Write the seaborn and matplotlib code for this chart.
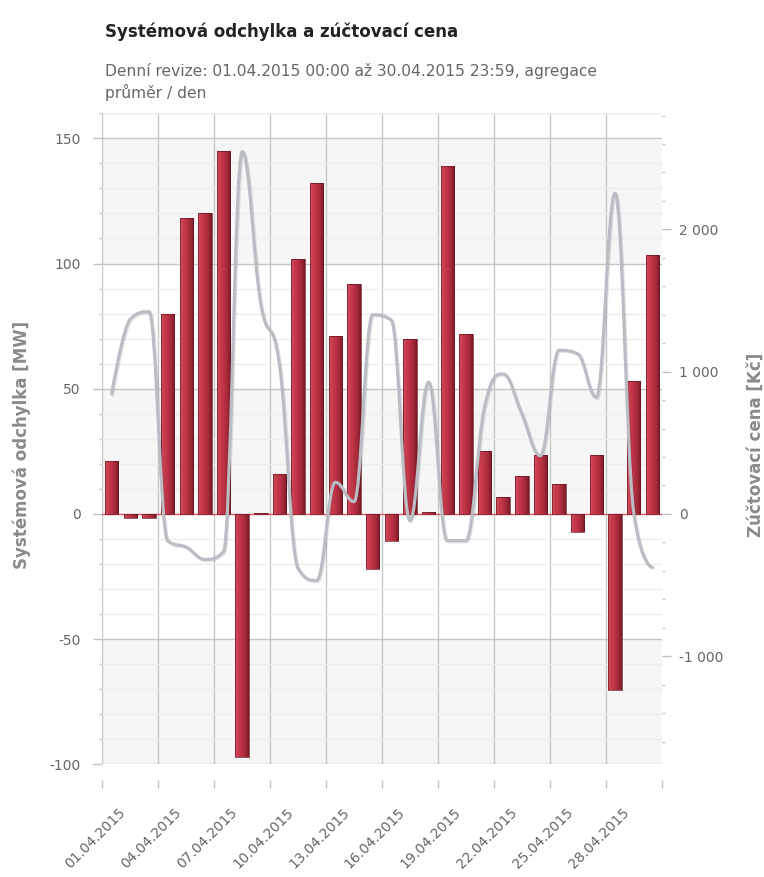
import numpy as np
import pandas as pd
import matplotlib
matplotlib.use("Agg")
import matplotlib.pyplot as plt
import seaborn as sns
from matplotlib.path import Path
from matplotlib.patches import PathPatch, Rectangle
from matplotlib.colors import LinearSegmentedColormap
from matplotlib.ticker import MultipleLocator, FixedLocator, FuncFormatter
import matplotlib.patheffects as pe
import matplotlib.transforms as mtrans

# --- data -------------------------------------------------------------
den = list(range(1, 31))
odchylka_mw = [21, -1.5, -1.5, 80, 118, 120, 145, -97, 0.3, 16,
               102, 132, 71, 92, -22, -10.7, 70, 0.9, 139, 72,
               25, 6.9, 15, 23.6, 12, -7.3, 23.6, -70.5, 53, 103.5]
cena_kc = [843, 1369, 1421, -188, -234, -320, -265, 2546, 1475, 1050,
           -384, -468, 222, 86, 1400, 1362, -47, 925, -188, -188,
           750, 983, 704, 409, 1150, 1125, 819, 2254, 15, -375]
datum_popisky = ["01.04.2015", "04.04.2015", "07.04.2015", "10.04.2015",
                 "13.04.2015", "16.04.2015", "19.04.2015", "22.04.2015",
                 "25.04.2015", "28.04.2015"]
datum_pozice = [0, 3, 6, 9, 12, 15, 18, 21, 24, 27]

nadpis = "Systémová odchylka a zúčtovací cena"
podnadpis = "Denní revize: 01.04.2015 00:00 až 30.04.2015 23:59, agregace\nprůměr / den"

# --- style --------------------------------------------------------------
sns.set_style("white")
plt.rcParams["font.family"] = ["DejaVu Sans"]
plt.rcParams["axes.unicode_minus"] = False

W, H = 764, 877
fig = plt.figure(figsize=(W / 100, H / 100), dpi=100, facecolor="white")
left_px, right_px, top_px, bottom_px = 102.4, 661.6, 113.3, 764.3
ax = fig.add_axes([left_px / W, (H - bottom_px) / H,
                   (right_px - left_px) / W, (bottom_px - top_px) / H])
ax.set_facecolor("white")

df = pd.DataFrame({"den": [d - 0.5 for d in den], "odchylka": odchylka_mw})

sns.barplot(data=df, x="den", y="odchylka", native_scale=True, width=0.72,
            color="#b8303f", errorbar=None, linewidth=0, ax=ax)

# shaded 3D-like columns: horizontal gradient clipped to each bar
cmap = LinearSegmentedColormap.from_list(
    "sloupec", [(0.0, "#d65a6a"), (0.15, "#cc4152"), (0.5, "#bb3243"),
                (0.82, "#9a2635"), (1.0, "#731824")])
grad = np.linspace(0, 1, 64).reshape(1, -1)
for p in list(ax.patches):
    if not isinstance(p, Rectangle):
        continue
    x0, w = p.get_x(), p.get_width()
    y0, h = p.get_y(), p.get_height()
    im = ax.imshow(grad, cmap=cmap, extent=[x0, x0 + w, min(y0, y0 + h), max(y0, y0 + h)],
                   aspect="auto", interpolation="bilinear", zorder=2)
    im.set_clip_path(p)
    p.set_facecolor("none")
    p.set_edgecolor("#6a1621")
    p.set_linewidth(0.5)
    p.set_zorder(2.1)

# alternating plot bands
for lo, hi in [(100, 150), (0, 50), (-100, -50)]:
    ax.axhspan(lo, hi, facecolor="#f6f6f6", edgecolor="none", zorder=0.2)
ax.axhline(0, color="#e8505a", lw=0.9, zorder=1.5)

ax.set_xlim(0, 30)
ax.set_ylim(-100, 160)
ax.set_xlabel("")
ax.set_ylabel("Systémová odchylka [MW]", color="#8a8a8a", fontsize=12,
              fontweight="bold", va="center")
ax.yaxis.set_label_coords(-(102.4 - 22) / (661.6 - 102.4), 0.49)

ax.yaxis.set_major_locator(FixedLocator([-100, -50, 0, 50, 100, 150]))
ax.yaxis.set_minor_locator(MultipleLocator(10))
ax.xaxis.set_major_locator(FixedLocator(datum_pozice))
ax.set_xticklabels(datum_popisky)
ax.xaxis.set_minor_locator(FixedLocator([30]))

ax.set_axisbelow(True)
ax.grid(True, which="major", axis="both", color="#c6c6c6", lw=1)
ax.grid(True, which="minor", axis="y", color="#ececec", lw=1)

for s in ax.spines.values():
    s.set_visible(False)
ax.spines["bottom"].set_position(("outward", 11.5))

ax.tick_params(axis="y", which="major", left=True, length=6.5, width=1,
               color="#c0c0c0", pad=9, labelcolor="#666666", labelsize=10)
ax.tick_params(axis="y", which="minor", left=True, length=2.5, width=1,
               color="#c8c8c8")
ax.tick_params(axis="x", which="both", bottom=True, length=5.8, width=1,
               color="#c0c0c0", direction="out", pad=2,
               labelcolor="#666666", labelsize=10)
posun = mtrans.ScaledTranslation(16 / 100, -14 / 100, fig.dpi_scale_trans)
for lbl in ax.get_xticklabels():
    lbl.set_rotation(45)
    lbl.set_ha("right")
    lbl.set_va("top")
    lbl.set_rotation_mode("anchor")
    lbl.set_transform(lbl.get_transform() + posun)

# --- price on the secondary axis ----------------------------------------
k = 17.6
ax2 = ax.twinx()
ax2.set_ylim(-100 * k, 160 * k)
ax2.set_xlim(0, 30)


def spline_path(xs, ys, smoothing=1.5, denom=2.5):
    n = len(xs)
    lc = [(xs[i], ys[i]) for i in range(n)]
    rc = [(xs[i], ys[i]) for i in range(n)]
    for i in range(1, n - 1):
        px, py = xs[i], ys[i]
        lx, ly = xs[i - 1], ys[i - 1]
        nx_, ny = xs[i + 1], ys[i + 1]
        lcx = (smoothing * px + lx) / denom
        lcy = (smoothing * py + ly) / denom
        rcx = (smoothing * px + nx_) / denom
        rcy = (smoothing * py + ny) / denom
        if rcx != lcx:
            corr = ((rcy - lcy) * (rcx - px)) / (rcx - lcx) + py - rcy
            lcy += corr
            rcy += corr
        if lcy > ly and lcy > py:
            lcy = max(ly, py)
            rcy = 2 * py - lcy
        elif lcy < ly and lcy < py:
            lcy = min(ly, py)
            rcy = 2 * py - lcy
        if rcy > ny and rcy > py:
            rcy = max(ny, py)
            lcy = 2 * py - rcy
        elif rcy < ny and rcy < py:
            rcy = min(ny, py)
            lcy = 2 * py - rcy
        lc[i] = (lcx, lcy)
        rc[i] = (rcx, rcy)
    verts = [(xs[0], ys[0])]
    codes = [Path.MOVETO]
    for i in range(1, n):
        verts += [rc[i - 1], lc[i], (xs[i], ys[i])]
        codes += [Path.CURVE4] * 3
    return Path(verts, codes)


cesta = spline_path([d - 0.5 for d in den], cena_kc)
ax2.add_patch(PathPatch(cesta, facecolor="none", edgecolor="#babdc3", lw=2.3,
                        capstyle="round", joinstyle="round", zorder=3,
                        path_effects=[pe.SimpleLineShadow(offset=(0.8, -0.8), alpha=0.1,
                                                          shadow_color="#000000"),
                                      pe.Normal()]))

ax2.yaxis.set_major_locator(FixedLocator([-1000, 0, 1000, 2000]))
ax2.yaxis.set_minor_locator(MultipleLocator(200))
ax2.yaxis.set_major_formatter(FuncFormatter(
    lambda v, _: f"{int(v):,}".replace(",", " ")))
for s in ax2.spines.values():
    s.set_visible(False)
ax2.tick_params(axis="y", which="major", right=True, length=6.5, width=1,
                color="#c0c0c0", pad=6, labelcolor="#666666", labelsize=10)
ax2.tick_params(axis="y", which="minor", right=True, length=2.5, width=1,
                color="#c8c8c8")
ax2.set_ylabel("Zúčtovací cena [Kč]", color="#8a8a8a", fontsize=12,
               fontweight="bold", va="center")
ax2.yaxis.set_label_coords(1 + (756 - 661.6) / (661.6 - 102.4), 0.49)

# --- titles ------------------------------------------------------------
fig.text(105 / W, 1 - 32 / H, nadpis, fontsize=12, fontweight="bold",
         color="#222222", va="center", ha="left")
fig.text(105 / W, 1 - 82 / H, podnadpis, fontsize=11.2, color="#666666",
         va="center", ha="left", linespacing=1.3)

fig.savefig("out.png", dpi=100, facecolor="white")
